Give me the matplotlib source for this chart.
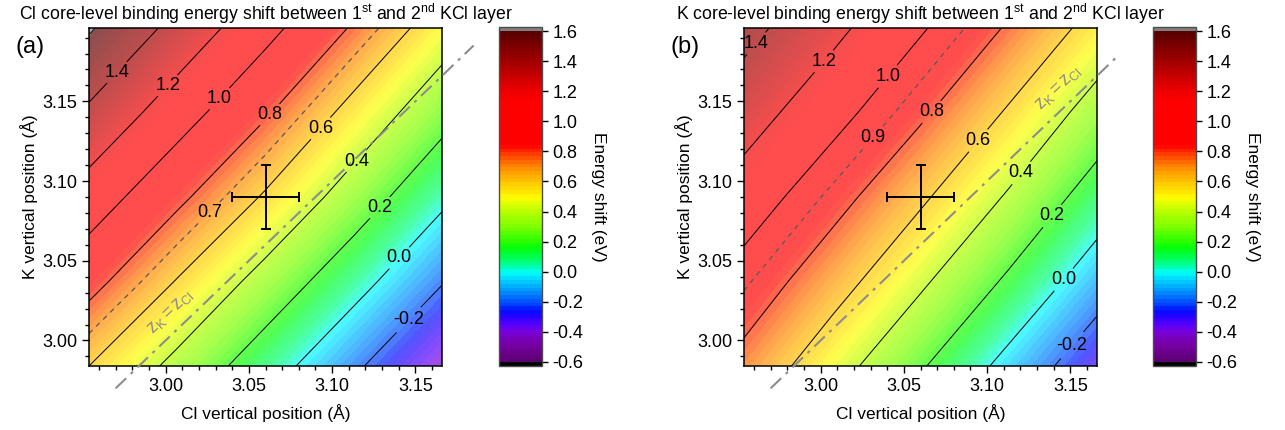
import numpy as np
import matplotlib
matplotlib.use("Agg")
import matplotlib.pyplot as plt
from matplotlib.colors import LinearSegmentedColormap, ListedColormap, BoundaryNorm, Normalize
from matplotlib.cm import ScalarMappable
from matplotlib.ticker import MultipleLocator, NullLocator

plt.rcParams['font.family'] = ['Liberation Sans', 'DejaVu Sans']
plt.rcParams['mathtext.fontset'] = 'custom'
plt.rcParams['mathtext.rm'] = 'Liberation Sans'
plt.rcParams['mathtext.it'] = 'Liberation Sans:italic'
plt.rcParams['axes.unicode_minus'] = False
plt.rcParams['font.size'] = 13

# grid nodes (Å)
cl_pos = [2.954, 3.007, 3.060, 3.113, 3.166]
k_pos = [2.984, 3.037, 3.090, 3.143, 3.196]

# energy shift (eV), rows = K position, columns = Cl position
shift_cl = [
    [0.60, 0.35, 0.09, -0.17, -0.42],
    [0.86, 0.59, 0.33, 0.07, -0.19],
    [1.11, 0.84, 0.58, 0.31, 0.04],
    [1.37, 1.09, 0.82, 0.54, 0.27],
    [1.62, 1.34, 1.06, 0.78, 0.50],
]
shift_k = [
    [0.74, 0.48, 0.22, -0.06, -0.33],
    [0.92, 0.68, 0.43, 0.17, -0.11],
    [1.11, 0.87, 0.63, 0.38, 0.11],
    [1.29, 1.07, 0.83, 0.58, 0.32],
    [1.46, 1.25, 1.02, 0.78, 0.53],
]

# measured structure and measured shifts
meas_cl, meas_k = 3.06, 3.09
err_cl, err_k = 0.02, 0.02
exp_shift = [0.7, 0.9]

titles = ["Cl core-level binding energy shift between 1$^{\\mathrm{st}}$ and 2$^{\\mathrm{nd}}$ KCl layer",
          "K core-level binding energy shift between 1$^{\\mathrm{st}}$ and 2$^{\\mathrm{nd}}$ KCl layer"]
tags = ["(a)", "(b)"]
line_levels = [-0.2, 0.0, 0.2, 0.4, 0.6, 0.8, 1.0, 1.2, 1.4, 1.6]
cbar_ticks = [-0.6, -0.4, -0.2, 0.0, 0.2, 0.4, 0.6, 0.8, 1.0, 1.2, 1.4, 1.6]
diag_ends = [[2.97, 3.185], [2.97, 3.178]]

# label spots (data coords)
lab_pos = [
    [(2.971, 3.168), (3.001, 3.160), (3.031, 3.153), (3.058, 3.146), (3.090, 3.136),
     (3.114, 3.113), (3.126, 3.086), (3.138, 3.054), (3.146, 3.013)],
    [(2.964, 3.184), (3.001, 3.176), (3.041, 3.165), (3.067, 3.143), (3.094, 3.126),
     (3.117, 3.108), (3.138, 3.079), (3.145, 3.039), (3.150, 2.998)],
]
exp_lab_pos = [(3.025, 3.082), (3.030, 3.129)]
zlab_pos = [(3.003, 3.018), (3.143, 3.158)]

# Origin-like rainbow palette
pal_v = [-0.6, -0.5, -0.4, -0.35, -0.3, -0.25, -0.2, -0.15, -0.1, -0.05, 0.0, 0.05, 0.1,
         0.15, 0.2, 0.3, 0.4, 0.45, 0.5, 0.55, 0.6, 0.65, 0.7, 0.75, 0.8, 0.85, 1.15,
         1.2, 1.3, 1.4, 1.5, 1.6]
pal_c = ["#5a0070", "#730099", "#7a00d9", "#5500ff", "#2a00ff", "#0010ff", "#0050ff",
         "#0080ff", "#00a8ff", "#00d4ff", "#00ffff", "#00ff99", "#00ff55", "#00ff10",
         "#22ff00", "#77ff00", "#b5ff00", "#d8ff00", "#ffff00", "#ffe000", "#ffc800",
         "#ffa800", "#ff8800", "#ff6000", "#ff3000", "#ff0000", "#ff0000", "#f00000",
         "#cc0000", "#a50000", "#800000", "#5a0000"]
vmin, vmax = -0.6, 1.6
base = LinearSegmentedColormap.from_list(
    "orig", [((v - vmin) / (vmax - vmin), c) for v, c in zip(pal_v, pal_c)])
levels = np.round(np.arange(vmin, vmax + 1e-6, 0.025), 4)
mids = 0.5 * (levels[:-1] + levels[1:])
band_rgba = base((mids - vmin) / (vmax - vmin))
cmap = ListedColormap(band_rgba)
cmap.set_over("#808080")
cmap.set_under("#000000")
norm = BoundaryNorm(levels, cmap.N)

# washed-out version for the map itself (semi-transparent look, but opaque)
fade = 0.7
pale_rgba = band_rgba.copy()
pale_rgba[:, :3] = pale_rgba[:, :3] * fade + (1 - fade)
cmap_pale = ListedColormap(pale_rgba)
cmap_pale.set_over((0.5 * fade + (1 - fade),) * 3)
cmap_pale.set_under((1 - fade,) * 3)

W, H = 1285, 430
fig = plt.figure(figsize=(W / 100, H / 100), dpi=100)
ax_lefts = [89, 744]
cax_lefts = [499, 1153]
bottom = 64 / H
height = 338 / H

X, Y = np.meshgrid(cl_pos, k_pos)
for i, Z in enumerate([np.array(shift_cl), np.array(shift_k)]):
    ax = fig.add_axes([ax_lefts[i] / W, bottom, 353 / W, height])
    cax = fig.add_axes([cax_lefts[i] / W, bottom, 43 / W, 339 / H])

    cf = ax.contourf(X, Y, Z, levels=levels, cmap=cmap_pale, norm=norm, extend="both")
    cf.set_edgecolor("face")
    cf.set_linewidth(0.3)
    cs = ax.contour(X, Y, Z, levels=line_levels, colors="k", linewidths=0.7,
                    negative_linestyles="solid")
    ax.clabel(cs, fmt="%.1f", fontsize=13, inline=True, inline_spacing=2,
              manual=lab_pos[i])
    for t in cs.labelTexts:
        t.set_rotation(0)
    cd = ax.contour(X, Y, Z, levels=[exp_shift[i]], colors="0.35", linewidths=0.9,
                    linestyles=[(0, (4, 4))])
    ax.clabel(cd, fmt="%.1f", fontsize=13, inline=True, inline_spacing=2,
              colors="k", manual=[exp_lab_pos[i]])
    for t in cd.labelTexts:
        t.set_rotation(0)

    ax.plot(diag_ends[i], diag_ends[i], color="0.55", lw=1.5,
            linestyle=(0, (7, 3, 1.5, 3)), clip_on=False, zorder=3)
    ax.text(zlab_pos[i][0], zlab_pos[i][1], r"$\mathrm{z_K = z_{Cl}}$", color="0.55",
            fontsize=13, rotation=45, transform_rotates_text=True,
            rotation_mode="anchor", ha="center", va="center")

    ax.errorbar([meas_cl], [meas_k], xerr=[err_cl], yerr=[err_k], fmt="none",
                ecolor="k", elinewidth=1.4, capsize=3.5, capthick=1.4, zorder=4)

    ax.set_xlim(cl_pos[0], cl_pos[-1])
    ax.set_ylim(k_pos[0], k_pos[-1])
    ax.xaxis.set_major_locator(MultipleLocator(0.05))
    ax.xaxis.set_minor_locator(MultipleLocator(0.01))
    ax.yaxis.set_major_locator(MultipleLocator(0.05))
    ax.yaxis.set_minor_locator(MultipleLocator(0.01))
    ax.xaxis.set_major_formatter(plt.FormatStrFormatter("%.2f"))
    ax.yaxis.set_major_formatter(plt.FormatStrFormatter("%.2f"))
    ax.tick_params(which="major", direction="out", length=5, width=1, labelsize=13)
    ax.tick_params(which="minor", direction="out", length=3, width=1)
    for sp in ax.spines.values():
        sp.set_linewidth(1.1)
    ax.set_xlabel("Cl vertical position (Å)", fontsize=12.5, labelpad=7)
    ax.set_ylabel("K vertical position (Å)", fontsize=12.5, labelpad=3)
    ax.set_title(titles[i], fontsize=12.7, pad=6)
    fig.text((ax_lefts[i] - 59) / W, 1 - 47 / H, tags[i], fontsize=17,
             ha="center", va="center")

    sm = ScalarMappable(norm=Normalize(vmin, vmax), cmap=cmap)
    cb = fig.colorbar(sm, cax=cax, extend="both", extendrect=True, extendfrac=0.013,
                      ticks=cbar_ticks)
    cb.minorticks_off()
    cb.solids.set_edgecolor("face")
    cb.solids.set_linewidth(0.5)
    cb.ax.yaxis.set_major_formatter(plt.FormatStrFormatter("%.1f"))
    cb.ax.tick_params(which="major", direction="out", length=4, width=1, labelsize=13)
    cb.ax.tick_params(which="minor", length=0)
    cb.outline.set_edgecolor("0.3")
    cb.outline.set_linewidth(1.0)
    cb.set_label("Energy shift (eV)", fontsize=12.5, rotation=270, labelpad=16)

fig.savefig("out.png", dpi=100)
